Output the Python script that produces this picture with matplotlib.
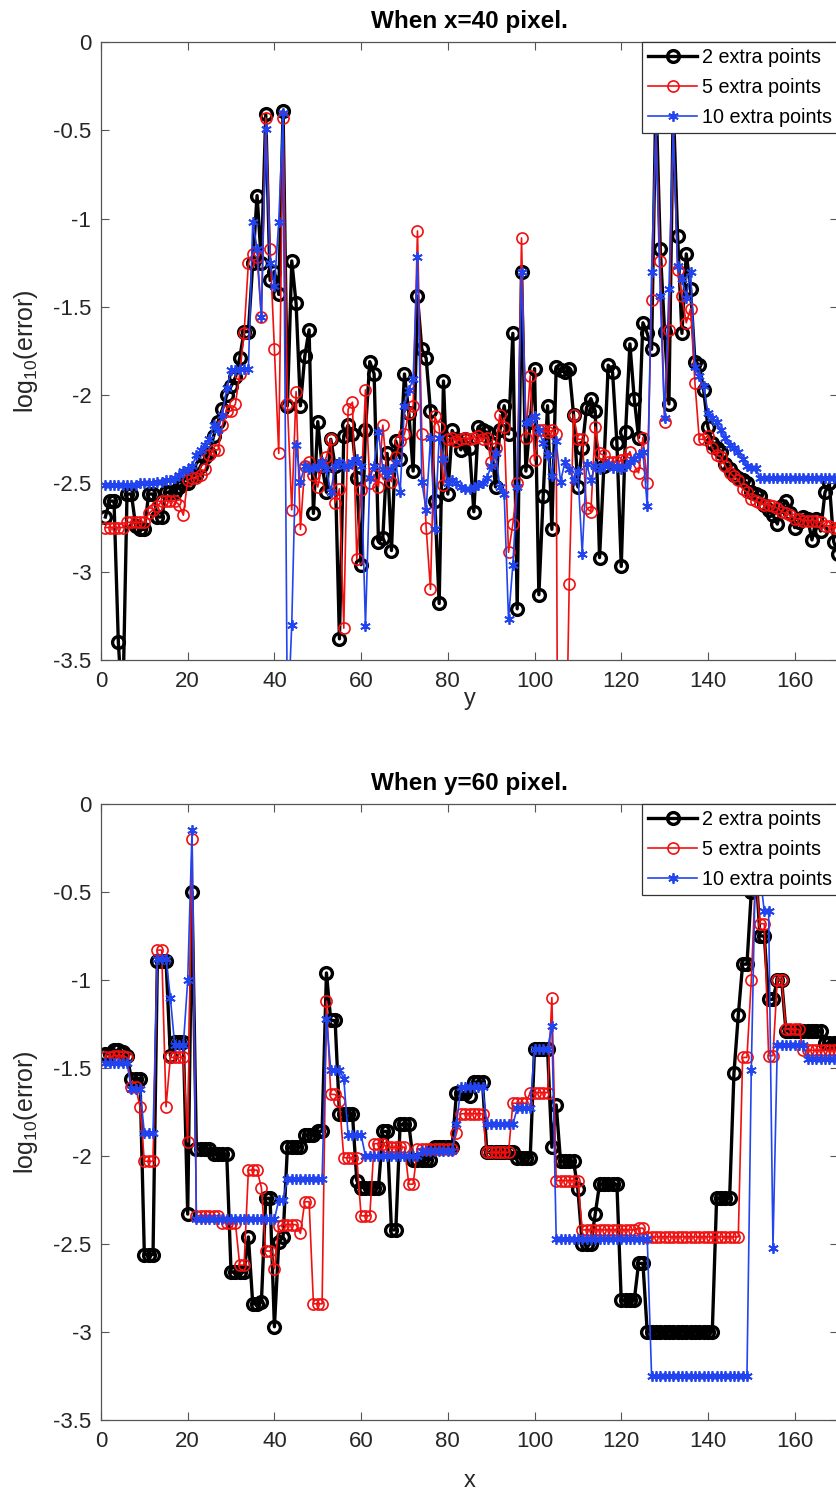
import numpy as np
import matplotlib
matplotlib.use("Agg")
import matplotlib.pyplot as plt

plt.rcParams['font.family'] = ['Liberation Sans', 'DejaVu Sans']
plt.rcParams['mathtext.fontset'] = 'custom'
plt.rcParams['mathtext.rm'] = 'Liberation Sans'
plt.rcParams['mathtext.it'] = 'Liberation Sans:italic'
plt.rcParams['axes.unicode_minus'] = False

# ---------------- data ----------------
x_vals = list(range(1, 171))

# Top panel: x = 40 pixel, error along y
top_2pts = [
    -2.69, -2.60, -2.60, -3.40, -3.80, -2.56, -2.56, -2.74, -2.76, -2.76,
    -2.56, -2.56, -2.69, -2.69, -2.55, -2.55, -2.55, -2.52, -2.50, -2.50,
    -2.46, -2.45, -2.40, -2.35, -2.33, -2.23, -2.15, -2.08, -2.00, -1.95,
    -1.90, -1.79, -1.64, -1.64, -1.25, -0.87, -1.25, -0.41, -1.35, -1.30,
    -1.43, -0.39, -2.06, -1.24, -1.48, -2.06, -1.78, -1.63, -2.67, -2.15,
    -2.40, -2.55, -2.25, -2.40, -3.38, -2.23, -2.17, -2.22, -2.47, -2.96,
    -2.20, -1.81, -1.88, -2.83, -2.81, -2.33, -2.88, -2.26, -2.36, -1.88,
    -2.10, -2.43, -1.44, -1.74, -1.79, -2.09, -2.60, -3.18, -1.92, -2.56,
    -2.20, -2.25, -2.31, -2.25, -2.30, -2.66, -2.18, -2.20, -2.21, -2.27,
    -2.52, -2.20, -2.06, -2.22, -1.65, -3.21, -1.30, -2.43, -2.15, -1.85,
    -3.13, -2.57, -2.06, -2.76, -1.84, -1.86, -1.87, -1.85, -2.11, -2.52,
    -2.30, -2.07, -2.02, -2.09, -2.92, -2.40, -1.83, -1.87, -2.27, -2.97,
    -2.21, -1.71, -2.02, -2.24, -1.59, -1.65, -1.74, -0.30, -1.17, -1.64,
    -2.05, -0.35, -1.10, -1.65, -1.20, -1.40, -1.81, -1.83, -1.97, -2.18,
    -2.27, -2.30, -2.32, -2.39, -2.42, -2.45, -2.47, -2.48, -2.50, -2.55,
    -2.56, -2.57, -2.62, -2.65, -2.68, -2.73, -2.63, -2.60, -2.67, -2.75,
    -2.72, -2.69, -2.70, -2.82, -2.70, -2.77, -2.55, -2.50, -2.83, -2.90,
]
top_5pts = [
    -2.75, -2.75, -2.75, -2.75, -2.75, -2.72, -2.72, -2.72, -2.72, -2.72,
    -2.67, -2.65, -2.63, -2.60, -2.60, -2.60, -2.60, -2.62, -2.68, -2.48,
    -2.47, -2.47, -2.45, -2.42, -2.34, -2.31, -2.31, -2.17, -2.09, -2.09,
    -2.05, -1.88, -1.65, -1.25, -1.20, -1.22, -1.56, -0.43, -1.17, -1.74,
    -2.33, -0.43, -2.05, -2.65, -1.98, -2.76, -2.40, -2.38, -2.45, -2.52,
    -2.40, -2.35, -2.25, -2.61, -2.53, -3.32, -2.08, -2.04, -2.93, -2.54,
    -1.97, -2.50, -2.45, -2.52, -2.17, -2.45, -2.49, -2.35, -2.26, -2.22,
    -2.10, -2.06, -1.07, -2.22, -2.75, -3.10, -2.12, -2.18, -2.51, -2.25,
    -2.24, -2.26, -2.25, -2.24, -2.25, -2.24, -2.23, -2.25, -2.24, -2.38,
    -2.30, -2.11, -2.18, -2.89, -2.73, -2.50, -1.11, -2.24, -1.89, -2.37,
    -2.20, -2.20, -2.21, -2.20, -2.22, -8.00, -4.50, -3.07, -2.11, -2.25,
    -2.25, -2.64, -2.66, -2.18, -2.33, -2.34, -2.38, -2.38, -2.38, -2.37,
    -2.36, -2.32, -2.40, -2.44, -2.24, -2.50, -1.46, -0.48, -1.24, -2.15,
    -1.63, -0.48, -1.29, -1.44, -1.59, -1.51, -1.93, -2.25, -2.25, -2.23,
    -2.30, -2.34, -2.35, -2.40, -2.44, -2.46, -2.48, -2.53, -2.55, -2.59,
    -2.60, -2.61, -2.62, -2.62, -2.63, -2.64, -2.66, -2.67, -2.68, -2.70,
    -2.70, -2.71, -2.71, -2.71, -2.71, -2.72, -2.74, -2.74, -2.75, -2.75,
]
top_10pts = [
    -2.51, -2.51, -2.51, -2.51, -2.51, -2.51, -2.51, -2.51, -2.50, -2.50,
    -2.50, -2.50, -2.49, -2.49, -2.48, -2.48, -2.47, -2.45, -2.43, -2.42,
    -2.40, -2.34, -2.31, -2.28, -2.25, -2.17, -2.20, -2.11, -1.96, -1.86,
    -1.86, -1.85, -1.85, -1.85, -1.02, -1.17, -1.56, -0.49, -1.25, -1.38,
    -1.02, -0.40, -3.90, -3.30, -2.28, -2.49, -2.40, -2.42, -2.41, -2.40,
    -2.38, -2.42, -2.55, -2.40, -2.38, -2.40, -2.40, -2.38, -2.36, -2.40,
    -3.31, -2.47, -2.40, -2.21, -2.42, -2.45, -2.42, -2.38, -2.55, -2.06,
    -1.97, -1.91, -1.22, -2.49, -2.65, -2.24, -2.76, -2.24, -2.36, -2.50,
    -2.48, -2.50, -2.52, -2.53, -2.53, -2.52, -2.51, -2.50, -2.47, -2.40,
    -2.33, -2.52, -2.56, -3.27, -2.96, -2.52, -1.30, -2.16, -2.14, -2.12,
    -2.20, -2.27, -2.34, -2.46, -2.26, -2.49, -2.38, -2.42, -2.48, -2.43,
    -2.90, -2.39, -2.48, -2.40, -2.42, -2.40, -2.39, -2.41, -2.40, -2.42,
    -2.40, -2.38, -2.36, -2.34, -2.32, -2.63, -1.30, -0.50, -1.44, -2.13,
    -1.40, -0.50, -1.27, -1.34, -1.45, -1.30, -1.84, -1.89, -1.95, -2.10,
    -2.13, -2.15, -2.20, -2.24, -2.28, -2.30, -2.32, -2.36, -2.40, -2.41,
    -2.41, -2.47, -2.47, -2.47, -2.47, -2.47, -2.47, -2.47, -2.47, -2.47,
    -2.47, -2.47, -2.47, -2.47, -2.47, -2.47, -2.47, -2.47, -2.47, -2.47,
]

# Bottom panel: y = 60 pixel, error along x
bot_2pts = [
    -1.42, -1.42, -1.40, -1.40, -1.41, -1.43, -1.56, -1.56, -1.56, -2.56,
    -2.56, -2.56, -0.89, -0.89, -0.89, -1.43, -1.35, -1.35, -1.35, -2.33,
    -0.50, -1.96, -1.96, -1.96, -1.96, -1.99, -1.99, -1.99, -1.99, -2.66,
    -2.66, -2.66, -2.66, -2.46, -2.84, -2.84, -2.83, -2.24, -2.24, -2.97,
    -2.49, -2.46, -1.95, -1.95, -1.95, -1.95, -1.88, -1.88, -1.88, -1.86,
    -1.86, -0.96, -1.23, -1.23, -1.76, -1.76, -1.76, -1.76, -2.14, -2.18,
    -2.18, -2.18, -2.18, -2.18, -1.86, -1.86, -2.42, -2.42, -1.82, -1.82,
    -1.82, -2.02, -2.02, -2.02, -2.02, -2.02, -1.95, -1.95, -1.95, -1.95,
    -1.95, -1.64, -1.64, -1.64, -1.66, -1.58, -1.58, -1.58, -1.98, -1.98,
    -1.98, -1.98, -1.98, -1.98, -1.98, -2.01, -2.01, -2.01, -2.01, -1.39,
    -1.39, -1.39, -1.39, -1.95, -1.71, -2.03, -2.03, -2.03, -2.03, -2.19,
    -2.50, -2.50, -2.50, -2.33, -2.16, -2.16, -2.16, -2.16, -2.16, -2.82,
    -2.82, -2.82, -2.82, -2.61, -2.61, -3.00, -3.00, -3.00, -3.00, -3.00,
    -3.00, -3.00, -3.00, -3.00, -3.00, -3.00, -3.00, -3.00, -3.00, -3.00,
    -3.00, -2.24, -2.24, -2.24, -2.24, -1.53, -1.20, -0.91, -0.91, -0.50,
    -0.35, -0.75, -0.75, -1.11, -1.11, -1.00, -1.00, -1.29, -1.29, -1.29,
    -1.29, -1.29, -1.29, -1.29, -1.29, -1.29, -1.36, -1.36, -1.36, -1.36,
]
bot_5pts = [
    -1.44, -1.44, -1.43, -1.43, -1.43, -1.44, -1.61, -1.61, -1.72, -2.03,
    -2.03, -2.03, -0.83, -0.83, -1.72, -1.44, -1.44, -1.44, -1.44, -1.92,
    -0.20, -2.34, -2.34, -2.34, -2.34, -2.34, -2.34, -2.38, -2.38, -2.38,
    -2.38, -2.62, -2.62, -2.08, -2.08, -2.08, -2.18, -2.54, -2.54, -2.64,
    -2.40, -2.39, -2.39, -2.39, -2.39, -2.44, -2.26, -2.26, -2.84, -2.84,
    -2.84, -1.12, -1.65, -1.65, -1.69, -2.01, -2.01, -2.01, -2.01, -2.34,
    -2.34, -2.34, -1.93, -1.93, -1.93, -1.95, -1.95, -1.95, -1.95, -1.95,
    -2.16, -2.16, -1.96, -1.96, -1.96, -1.96, -1.96, -1.96, -1.96, -1.96,
    -1.96, -1.87, -1.76, -1.76, -1.76, -1.76, -1.76, -1.76, -1.98, -1.98,
    -1.98, -1.98, -1.98, -1.98, -1.70, -1.70, -1.70, -1.70, -1.64, -1.64,
    -1.64, -1.64, -1.64, -1.10, -2.14, -2.14, -2.14, -2.14, -2.14, -2.14,
    -2.42, -2.42, -2.42, -2.42, -2.42, -2.42, -2.42, -2.42, -2.42, -2.42,
    -2.42, -2.42, -2.42, -2.41, -2.41, -2.46, -2.46, -2.46, -2.46, -2.46,
    -2.46, -2.46, -2.46, -2.46, -2.46, -2.46, -2.46, -2.46, -2.46, -2.46,
    -2.46, -2.46, -2.46, -2.46, -2.46, -2.46, -2.46, -1.44, -1.44, -1.00,
    -0.40, -0.68, -0.68, -1.43, -1.43, -1.00, -1.00, -1.28, -1.28, -1.28,
    -1.28, -1.40, -1.40, -1.40, -1.40, -1.40, -1.40, -1.40, -1.40, -1.40,
]
bot_10pts = [
    -1.47, -1.47, -1.47, -1.47, -1.47, -1.47, -1.62, -1.62, -1.62, -1.87,
    -1.87, -1.87, -0.88, -0.88, -0.88, -1.10, -1.37, -1.37, -1.37, -1.00,
    -0.15, -2.36, -2.36, -2.36, -2.36, -2.36, -2.36, -2.36, -2.36, -2.36,
    -2.36, -2.36, -2.36, -2.36, -2.36, -2.36, -2.36, -2.36, -2.36, -2.36,
    -2.25, -2.25, -2.13, -2.13, -2.13, -2.13, -2.13, -2.13, -2.13, -2.13,
    -2.13, -1.22, -1.51, -1.51, -1.51, -1.56, -1.88, -1.88, -1.88, -1.88,
    -2.00, -2.00, -2.00, -2.00, -2.00, -2.00, -2.00, -2.00, -2.00, -2.00,
    -2.00, -2.00, -2.00, -1.97, -1.97, -1.97, -1.97, -1.97, -1.97, -1.97,
    -1.97, -1.82, -1.61, -1.61, -1.61, -1.61, -1.61, -1.61, -1.82, -1.82,
    -1.82, -1.82, -1.82, -1.82, -1.82, -1.73, -1.73, -1.73, -1.73, -1.39,
    -1.39, -1.39, -1.39, -1.26, -2.47, -2.47, -2.47, -2.47, -2.47, -2.47,
    -2.47, -2.47, -2.47, -2.47, -2.47, -2.47, -2.47, -2.47, -2.47, -2.47,
    -2.47, -2.47, -2.47, -2.47, -2.47, -2.47, -3.25, -3.25, -3.25, -3.25,
    -3.25, -3.25, -3.25, -3.25, -3.25, -3.25, -3.25, -3.25, -3.25, -3.25,
    -3.25, -3.25, -3.25, -3.25, -3.25, -3.25, -3.25, -3.25, -3.25, -1.51,
    -0.30, -0.40, -0.61, -0.61, -2.52, -1.37, -1.37, -1.37, -1.37, -1.37,
    -1.37, -1.37, -1.45, -1.45, -1.45, -1.45, -1.45, -1.45, -1.45, -1.45,
]

series_labels = ['2 extra points', '5 extra points', '10 extra points']
titles = ['When x=40 pixel.', 'When y=60 pixel.']
xlabels = ['y', 'x']
yticks = [0, -0.5, -1, -1.5, -2, -2.5, -3, -3.5]
ytick_labels = ['0', '-0.5', '-1', '-1.5', '-2', '-2.5', '-3', '-3.5']
xticks = [0, 20, 40, 60, 80, 100, 120, 140, 160]

# ---------------- figure ----------------
W, H = 836, 1494
fig = plt.figure(figsize=(W / 100, H / 100), dpi=100)

def px_axes(left, top, right, bottom):
    return fig.add_axes([left / W, 1 - bottom / H, (right - left) / W, (bottom - top) / H])

ax_top = px_axes(101, 42, 838, 660)
ax_bot = px_axes(101, 804, 838, 1420)

BLUE = '#2244ee'
RED = '#f01010'
styles = [
    dict(color='black', lw=2.4, marker='o', ms=8.5, mfc='none', mew=2.4),
    dict(color=RED, lw=1.2, marker='o', ms=8, mfc='none', mew=1.2),
    dict(color=BLUE, lw=1.2, marker=(6, 2, 0), ms=7.5, mew=1.3),
]

panels = [
    (ax_top, [top_2pts, top_5pts, top_10pts], titles[0], xlabels[0], 688),
    (ax_bot, [bot_2pts, bot_5pts, bot_10pts], titles[1], xlabels[1], 1470),
]

for ax, data, title, xl, xl_top in panels:
    for vals, lab, st in zip(data, series_labels, styles):
        ax.plot(x_vals, vals, label=lab, **st)
    ax.set_xlim(0, 170)
    ax.set_ylim(-3.5, 0)
    ax.set_xticks(xticks)
    ax.set_xticklabels([str(t) for t in xticks])
    ax.set_yticks(yticks)
    ax.set_yticklabels(ytick_labels)
    ax.tick_params(direction='in', length=6, width=0.8, colors='#555555',
                   labelcolor='#262626', labelsize=16, top=True, right=True)
    ax.tick_params(axis='x', pad=8)
    ax.tick_params(axis='y', pad=7)
    for sp in ax.spines.values():
        sp.set_color('#555555')
        sp.set_linewidth(0.9)
    ax.set_title(title, fontsize=17.5, fontweight='bold', pad=10, color='black')
    ax.set_xlabel(xl, fontsize=17, color='#262626')
    bb = ax.get_position()
    ax.xaxis.set_label_coords(0.5, -(xl_top - (1 - bb.y0) * H) / (bb.height * H))
    ax.set_ylabel(r'log$_{10}$(error)', fontsize=18, color='#262626')
    ax.yaxis.set_label_coords(-0.083, 0.5)
    top_px = (1 - bb.y1) * H
    leg = ax.legend(loc='upper left', bbox_to_anchor=(642 / W, 1 - top_px / H),
                    bbox_transform=fig.transFigure, borderaxespad=0,
                    fontsize=14.2, handlelength=2.5, handletextpad=0.25,
                    labelspacing=0.55, borderpad=0.3, fancybox=False,
                    framealpha=1, edgecolor='#333333')
    leg.get_frame().set_linewidth(0.9)

fig.savefig('out.png', dpi=100)
